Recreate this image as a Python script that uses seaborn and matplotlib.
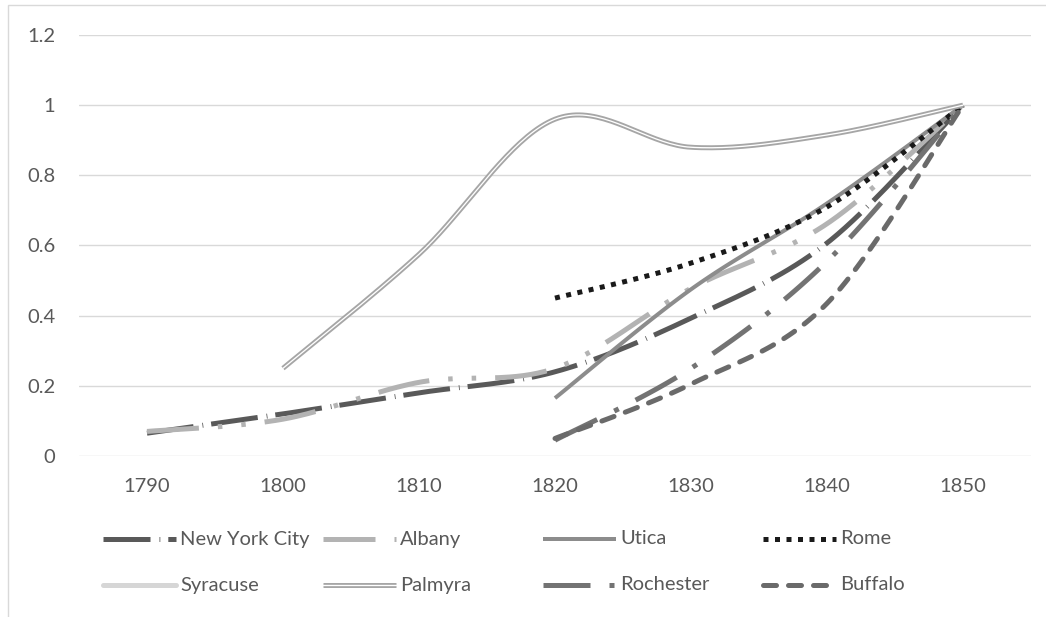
import numpy as np
import pandas as pd
import seaborn as sns
import matplotlib
matplotlib.use("Agg")
import matplotlib.pyplot as plt
from matplotlib.lines import Line2D
from matplotlib.patches import Rectangle

# ---------------- data (share of 1850 population) ----------------
years = ["1790", "1800", "1810", "1820", "1830", "1840", "1850"]
nan = np.nan
new_york_city = [0.065, 0.12, 0.18, 0.24, 0.393, 0.607, 1.0]
albany = [0.07, 0.105, 0.21, 0.25, 0.478, 0.662, 1.0]
utica = [nan, nan, nan, 0.165, 0.475, 0.72, 1.0]
rome = [nan, nan, nan, 0.45, 0.55, 0.71, 1.0]
syracuse = [nan, nan, nan, nan, nan, nan, 1.0]
palmyra = [nan, 0.25, 0.575, 0.96, 0.88, 0.915, 1.0]
rochester = [nan, nan, nan, 0.045, 0.25, 0.555, 1.0]
buffalo = [nan, nan, nan, 0.05, 0.205, 0.435, 1.0]

names = ["New York City", "Albany", "Utica", "Rome",
         "Syracuse", "Palmyra", "Rochester", "Buffalo"]
values = [new_york_city, albany, utica, rome, syracuse, palmyra, rochester, buffalo]

W, H, DPI = 1046, 617, 100
PX = 72.0 / DPI  # pixels -> points


def pts(seq):
    return tuple(v * PX for v in seq)


# line styles (px based, converted to points)
styles = {
    "New York City": dict(color="#595959", lw=5, ls=(0, pts([47, 9, 0.8, 8])), cap="butt"),
    "Albany": dict(color="#b3b3b3", lw=5, ls=(0, pts([52, 19, 4.5, 19, 4.5, 19])), cap="butt"),
    "Utica": dict(color="#8c8c8c", lw=4, ls="-", cap="butt"),
    "Rome": dict(color="#1a1a1a", lw=5, ls=(0, pts([5, 6.5])), cap="butt"),
    "Syracuse": dict(color="#d6d6d6", lw=5, ls="-", cap="round"),
    "Palmyra": dict(color="#a6a6a6", lw=5, ls="-", cap="butt"),
    "Rochester": dict(color="#737373", lw=5, ls=(0, pts([47, 19, 5, 19])), cap="butt"),
    "Buffalo": dict(color="#6a6a6a", lw=5, ls=(0, pts([13, 12])), cap="round"),
}


# excel-like smoothed line rendering (cubic bezier through the data points)
def smooth(xs, ys, n=40):
    p = np.column_stack([xs, ys]).astype(float)
    out = [p[0:1]]
    for i in range(len(p) - 1):
        p0 = p[i - 1] if i > 0 else p[i]
        p1, p2 = p[i], p[i + 1]
        p3 = p[i + 2] if i + 2 < len(p) else p[i + 1]
        c1 = p1 + (p2 - p0) / 6.0
        c2 = p2 - (p3 - p1) / 6.0
        t = np.linspace(0, 1, n)[1:, None]
        seg = (1 - t) ** 3 * p1 + 3 * (1 - t) ** 2 * t * c1 + 3 * (1 - t) * t ** 2 * c2 + t ** 3 * p2
        out.append(seg)
    return np.vstack(out)


sns.set_theme(style="white")
plt.rcParams["font.family"] = ["Lato", "DejaVu Sans"]
plt.rcParams["lines.scale_dashes"] = False
text_color = "#595959"
fs = 14.5

fig = plt.figure(figsize=(W / DPI, H / DPI), dpi=DPI)
ax = fig.add_axes([79 / W, 1 - 456 / H, 952 / W, 421 / H])

df = pd.DataFrame({"year": years})
for name, vals in zip(names, values):
    df[name] = vals

xidx = np.arange(len(years))
for z, name in enumerate(names):
    s = df[name].to_numpy(dtype=float)
    ok = ~np.isnan(s)
    if ok.sum() < 2:
        continue
    curve = smooth(xidx[ok], s[ok])
    st = styles[name]
    line_kw = dict(linewidth=st["lw"] * PX, linestyle=st["ls"], solid_capstyle=st["cap"],
                   dash_capstyle=st["cap"])
    sns.lineplot(x=curve[:, 0], y=curve[:, 1], ax=ax, color=st["color"], sort=False,
                 estimator=None, legend=False, zorder=3 + z, **line_kw)
    if name == "Palmyra":
        sns.lineplot(x=curve[:, 0], y=curve[:, 1], ax=ax, color="white", sort=False,
                     estimator=None, legend=False, zorder=3 + z + 0.5,
                     linewidth=1.3 * PX)

ax.set_xlim(-0.5, 6.5)
ax.set_ylim(0, 1.2)
ax.set_xticks(xidx)
ax.set_xticklabels(years)
yt = [0, 0.2, 0.4, 0.6, 0.8, 1.0, 1.2]
ax.set_yticks(yt)
ax.set_yticklabels(["0", "0.2", "0.4", "0.6", "0.8", "1", "1.2"])
ax.grid(axis="y", color="#d9d9d9", linewidth=1.4 * PX, zorder=0)
ax.grid(axis="x", visible=False)
ax.set_axisbelow(True)
for sp in ax.spines.values():
    sp.set_visible(False)
ax.tick_params(axis="both", length=0, labelsize=fs, labelcolor=text_color)
ax.tick_params(axis="x", pad=16)
ax.tick_params(axis="y", pad=17)
ax.set_xlabel("")
ax.set_ylabel("")

# chart border (excel chart area)
fig.add_artist(Rectangle((8 / W, -0.05), 1.2, 1 - 5 / H + 0.05, transform=fig.transFigure,
                         fill=False, edgecolor="#d9d9d9", linewidth=1.4 * PX, zorder=0))

# manual legend laid out like the excel legend (equal column widths)
for i, name in enumerate(names):
    row, col = divmod(i, 4)
    x0 = 103 + 220 * col
    y = [539, 585][row]
    st = styles[name]
    fy = 1 - y / H
    hx = [x0 / W, (x0 + 73) / W]
    fig.add_artist(Line2D(hx, [fy, fy], transform=fig.transFigure, color=st["color"],
                          linewidth=st["lw"] * PX, linestyle=st["ls"],
                          solid_capstyle=st["cap"], dash_capstyle=st["cap"]))
    if name == "Palmyra":
        fig.add_artist(Line2D(hx, [fy, fy], transform=fig.transFigure, color="white",
                              linewidth=1.3 * PX))
    fig.text((x0 + 77) / W, fy, name, fontsize=fs, color=text_color, va="center", ha="left")

fig.savefig("out.png", dpi=DPI)
